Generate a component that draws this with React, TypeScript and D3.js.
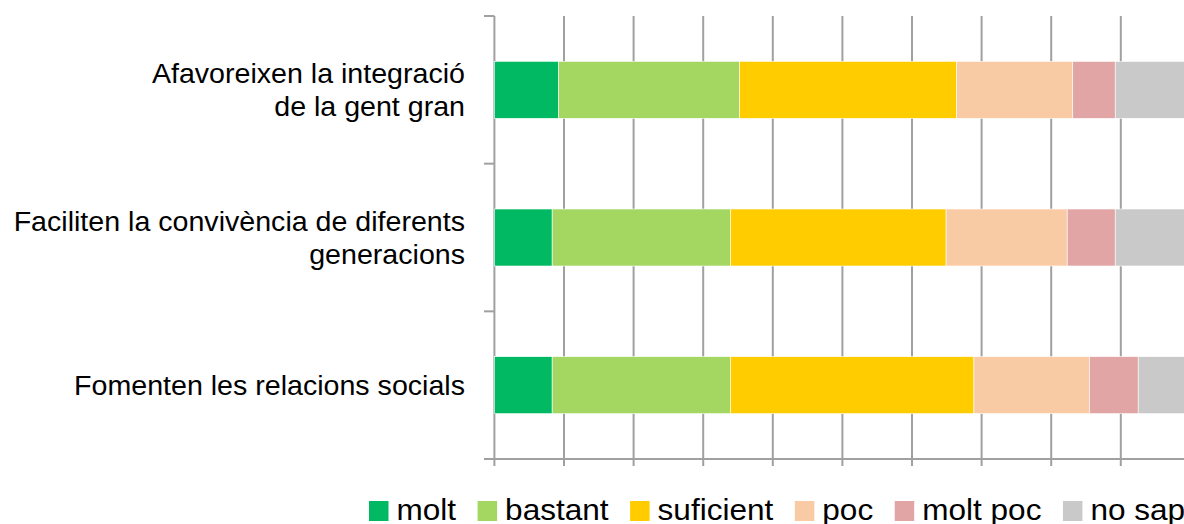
import React, { useEffect, useRef } from "react";
import * as d3 from "d3";

const categories = [
  "Afavoreixen la integració|de la gent gran",
  "Faciliten la convivència de diferents|generacions",
  "Fomenten les relacions socials",
];
const seriesNames = ["molt", "bastant", "suficient", "poc", "molt poc", "no sap"];
const molt = [9.2, 8.3, 8.3];
const bastant = [26.0, 25.6, 25.6];
const suficient = [31.2, 31.0, 35.0];
const poc = [16.7, 17.4, 16.6];
const moltPoc = [6.1, 6.9, 7.0];
const noSap = [10.8, 10.8, 7.5];
const xTicks = [0, 10, 20, 30, 40, 50, 60, 70, 80, 90, 100];

const colors = ["#00b962", "#a3d762", "#ffcc00", "#f9cba4", "#e0a5a4", "#c9c9c9"];
const FONT = "'Liberation Sans', Arial, sans-serif";

export default function App() {
  const ref = useRef<SVGSVGElement>(null);

  useEffect(() => {
    const svg = d3.select(ref.current);
    svg.selectAll("*").remove();

    const W = 1184;
    const x = d3.scaleLinear().domain([0, 100]).range([494.4, 1190.4]);
    const y = d3.scaleBand<string>().domain(categories).range([16, 459]).paddingInner(0.614).paddingOuter(0.307);
    const step = y.step();
    const boundaries = [16, 16 + step, 16 + 2 * step, 459];

    const series = [molt, bastant, suficient, poc, moltPoc, noSap];
    const rows = categories.map((c, i) => {
      const r: any = { cat: c };
      seriesNames.forEach((s, j) => (r[s] = series[j][i]));
      return r;
    });
    const stacked = d3.stack<any>().keys(seriesNames)(rows);

    const gridColor = "#a0a0a0";
    const g = svg.append("g");

    g.selectAll("line.grid")
      .data(xTicks)
      .enter()
      .append("line")
      .attr("x1", (d) => x(d))
      .attr("x2", (d) => x(d))
      .attr("y1", 16)
      .attr("y2", 466)
      .attr("stroke", gridColor)
      .attr("stroke-width", 2);

    g.append("line")
      .attr("x1", 484).attr("x2", W + 10)
      .attr("y1", 459).attr("y2", 459)
      .attr("stroke", gridColor).attr("stroke-width", 2);

    g.selectAll("line.ytick")
      .data(boundaries)
      .enter()
      .append("line")
      .attr("x1", 484).attr("x2", x(0))
      .attr("y1", (d) => d).attr("y2", (d) => d)
      .attr("stroke", gridColor).attr("stroke-width", 2);

    stacked.forEach((layer, j) => {
      g.selectAll(null)
        .data(layer)
        .enter()
        .append("rect")
        .attr("x", (d) => x(d[0]))
        .attr("width", (d) => x(d[1]) - x(d[0]))
        .attr("y", (d) => y(d.data.cat)!)
        .attr("height", y.bandwidth())
        .attr("fill", colors[j])
        .attr("stroke", "#ffffff")
        .attr("stroke-width", 0.6);
    });

    // category labels (slightly widened glyphs as in the reference)
    const fs = 27.5;
    const sx = 1.04;
    const ax = 465;
    categories.forEach((c) => {
      const lines = c.split("|");
      const cy = y(c)! + y.bandwidth() / 2;
      const lh = 33;
      const t = g.append("text")
        .attr("text-anchor", "end")
        .attr("font-family", FONT)
        .attr("font-size", fs)
        .attr("fill", "#000")
        .attr("transform", `translate(${ax},0) scale(${sx},1) translate(${-ax},0)`);
      lines.forEach((ln, k) => {
        t.append("tspan")
          .attr("x", ax)
          .attr("y", cy + 0.35 * fs + (k - (lines.length - 1) / 2) * lh)
          .text(ln);
      });
    });

    // legend
    const lfs = 29.5;
    const lsx = 1.07;
    const lg = g.append("g");
    let lx = 369;
    seriesNames.forEach((s, j) => {
      lg.append("rect")
        .attr("x", lx).attr("y", 501)
        .attr("width", 19.5).attr("height", 20)
        .attr("fill", colors[j]);
      const tx = lx + 27.5;
      const t = lg.append("text")
        .attr("x", tx)
        .attr("y", 520.5)
        .attr("font-family", FONT)
        .attr("font-size", lfs)
        .attr("fill", "#000")
        .attr("transform", `translate(${tx},0) scale(${lsx},1) translate(${-tx},0)`)
        .text(s);
      const w = (t.node() as SVGTextElement).getComputedTextLength() * lsx;
      lx = tx + w + 21.5;
    });
  }, []);

  return (
    <svg
      ref={ref}
      width={1184}
      height={524}
      style={{ position: "absolute", left: 0, top: 0, background: "#fff" }}
    />
  );
}
